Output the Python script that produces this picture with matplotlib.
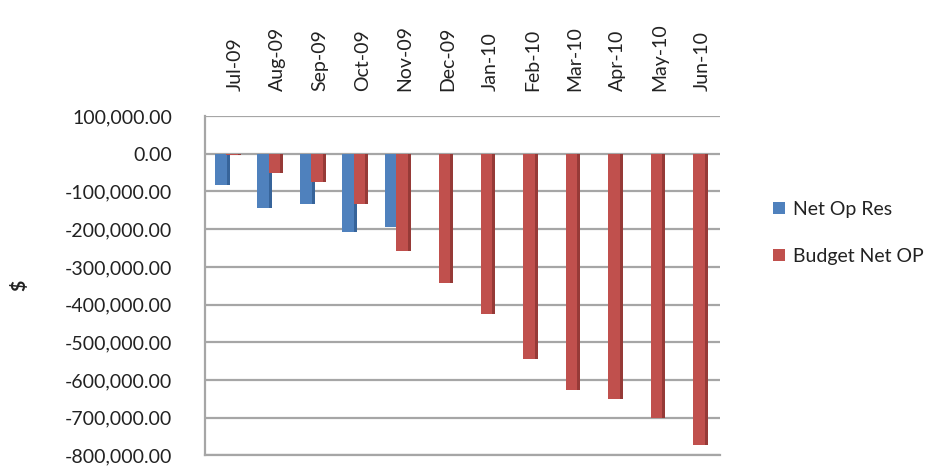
import matplotlib
matplotlib.use("Agg")
import matplotlib.pyplot as plt
from matplotlib.ticker import FuncFormatter, MultipleLocator
import numpy as np

months = ["Jul-09", "Aug-09", "Sep-09", "Oct-09", "Nov-09", "Dec-09",
          "Jan-10", "Feb-10", "Mar-10", "Apr-10", "May-10", "Jun-10"]
net_op_res = [-83000, -143000, -132000, -207000, -194000, 0, 0, 0, 0, 0, 0, 0]
budget_net_op = [-4000, -52000, -74000, -134000, -258000, -342000,
                 -426000, -544000, -626000, -650000, -700000, -772000]

plt.rcParams['font.family'] = ['Lato', 'DejaVu Sans']

fig = plt.figure(figsize=(9.33, 4.70), dpi=100)
ax = fig.add_axes([0.22, 0.031, 0.552, 0.722])

x = np.arange(len(months))
blue, blue_side = "#4F81BD", "#37649A"
red, red_side = "#C0504D", "#963A37"

ax.bar(x - 0.48, net_op_res, width=0.28, align='edge', color=blue, zorder=3, label="Net Op Res")
ax.bar(x - 0.20, net_op_res, width=0.07, align='edge', color=blue_side, zorder=3)
ax.bar(x - 0.21, budget_net_op, width=0.27, align='edge', color=red, zorder=4, label="Budget Net OP")
ax.bar(x + 0.06, budget_net_op, width=0.07, align='edge', color=red_side, zorder=4)

ax.set_xlim(-0.707, 11.43)
ax.set_ylim(-800000, 100000)
ax.yaxis.set_major_locator(MultipleLocator(100000))
ax.yaxis.set_major_formatter(FuncFormatter(lambda v, p: f"{v:,.2f}"))
ax.grid(axis='y', color="#A6A6A6", linewidth=1.6, zorder=0)
ax.set_axisbelow(True)

ax.xaxis.tick_top()
ax.set_xticks(x)
ax.set_xticklabels(months, rotation=90, fontsize=14, color="#222222")
ax.tick_params(axis='x', length=0, pad=18)
ax.tick_params(axis='y', length=0, pad=24, labelsize=14, labelcolor="#222222")

for s in ['top', 'right']:
    ax.spines[s].set_visible(False)
for s in ['left', 'bottom']:
    ax.spines[s].set_color("#A6A6A6")
    ax.spines[s].set_linewidth(1.6)

ax.set_ylabel("$", fontsize=14, color="#222222", labelpad=26, fontweight='bold')

h, l = ax.get_legend_handles_labels()
leg = fig.legend(h, l, loc='upper left', bbox_to_anchor=(0.81, 0.61),
                 frameon=False, fontsize=14, handlelength=0.6, handleheight=0.6,
                 handletextpad=0.4, labelspacing=1.55)
for t in leg.get_texts():
    t.set_color("#222222")

fig.savefig("out.png", dpi=100)
